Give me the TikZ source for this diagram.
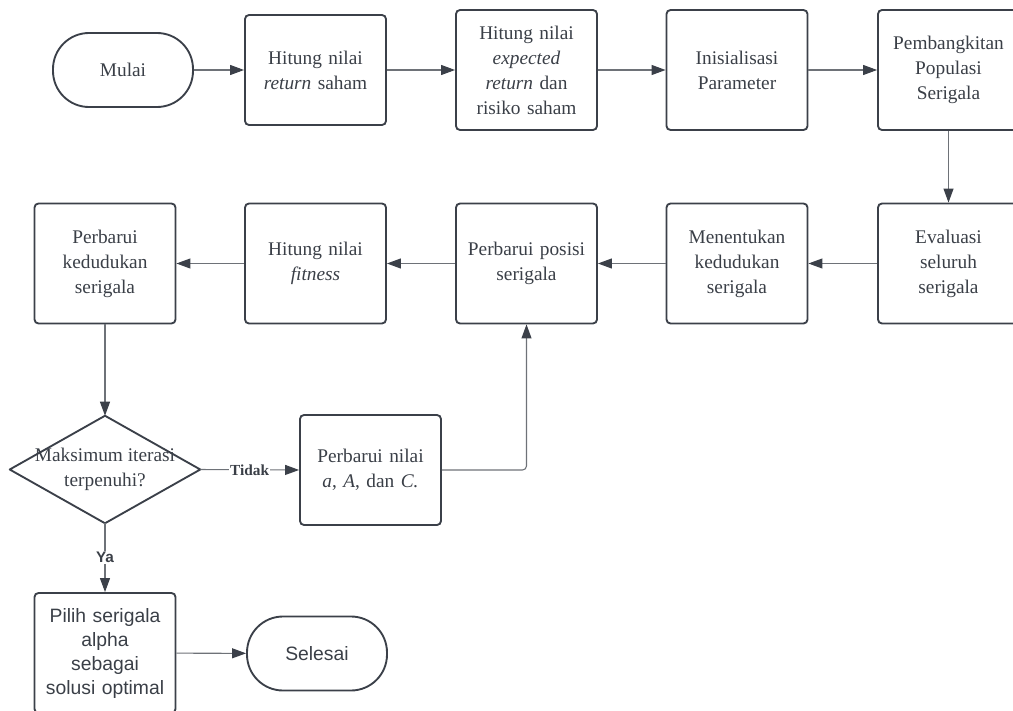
\documentclass[tikz,border=0pt]{standalone}
\usepackage{fontspec}
\setmainfont{Liberation Serif}
\setsansfont{Liberation Sans}
\usetikzlibrary{arrows.meta}
\definecolor{bord}{HTML}{3B4049}
\definecolor{lnc}{HTML}{6E7278}
\definecolor{txt}{HTML}{3A3F47}
\begin{document}
\begin{tikzpicture}[x=0.75pt,y=-0.75pt,
  box/.style={draw=bord, line width=1.4pt, rounded corners=3pt, minimum width=105.75pt,
    minimum height=90pt, align=center, text width=98pt, inner sep=0pt,
    font=\fontsize{14.5}{18.75}\selectfont, text=txt},
  sbox/.style={box, font=\sffamily\fontsize{14.5}{18}\selectfont},
  term/.style={draw=bord, line width=1.4pt, rounded corners=27pt, minimum width=105pt,
    minimum height=55.5pt, align=center, inner sep=0pt,
    font=\fontsize{14.5}{18.75}\selectfont, text=txt},
  conn/.style={draw=lnc, line width=0.8pt, -{Triangle[length=10.5pt,width=7.5pt,color=bord,fill=bord]}},
  lbl/.style={fill=white, inner sep=1pt, text=txt},
]
\useasboundingbox (0,0) rectangle (1013,710);
\clip (0,0) rectangle (1013,710);

% row 1
\node[term] (mulai) at (123,70) {Mulai};
\node[box, minimum height=82.5pt] (ret) at (315.5,70) {Hitung nilai\\\textit{return} saham};
\node[box] (exp) at (526.5,70) {Hitung nilai\\\textit{expected}\\\textit{return} dan\\risiko saham};
\node[box] (init) at (737,70) {Inisialisasi\\Parameter};
\node[box] (pop) at (948.5,70) {Pembangkitan\\Populasi\\Serigala};

% row 2
\node[box] (eval) at (948.5,263.5) {Evaluasi\\seluruh\\serigala};
\node[box] (tentu) at (737,263.5) {Menentukan\\kedudukan\\serigala};
\node[box] (posisi) at (526.5,263.5) {Perbarui posisi\\serigala};
\node[box] (fit) at (315.5,263.5) {Hitung nilai\\\textit{fitness}};
\node[box] (kedud) at (105,263.5) {Perbarui\\kedudukan\\serigala};

% decision
\node[minimum width=142.5pt, minimum height=80.25pt, inner sep=0pt, align=center,
  font=\fontsize{14.5}{18.75}\selectfont, text=txt] (dec) at (105,469.5) {Maksimum iterasi\\terpenuhi?};
\draw[bord, line width=1.4pt, line join=round] (dec.north) -- (dec.east) -- (dec.south) -- (dec.west) -- cycle;

\node[box, minimum height=82.5pt] (nilai) at (370.5,470) {Perbarui nilai\\\textit{a}, \textit{A}, dan \textit{C.}};

% end
\node[sbox] (pilih) at (105,653) {Pilih serigala\\alpha\\sebagai\\solusi optimal};
\node[term, font=\sffamily\fontsize{14.5}{18}\selectfont] (selesai) at (317,653.5) {Selesai};

% connectors
\draw[conn] (mulai) -- (ret);
\draw[conn] (ret) -- (exp);
\draw[conn] (exp) -- (init);
\draw[conn] (init) -- (pop);
\draw[conn] (pop) -- (eval);
\draw[conn] (eval) -- (tentu);
\draw[conn] (tentu) -- (posisi);
\draw[conn] (posisi) -- (fit);
\draw[conn] (fit) -- (kedud);
\draw[conn] (kedud) -- (dec.north);
\draw[conn] (dec.east) -- node[lbl, font=\bfseries\fontsize{11.5}{13}\selectfont] {Tidak} (nilai.west);
\draw[conn, rounded corners=3pt] (nilai.east) -| (posisi.south);
\draw[conn] (dec.south) -- node[lbl, font=\sffamily\bfseries\fontsize{11.5}{13}\selectfont] {Ya} (pilih.north);
\draw[conn] (pilih) -- (selesai);
\end{tikzpicture}
\end{document}
